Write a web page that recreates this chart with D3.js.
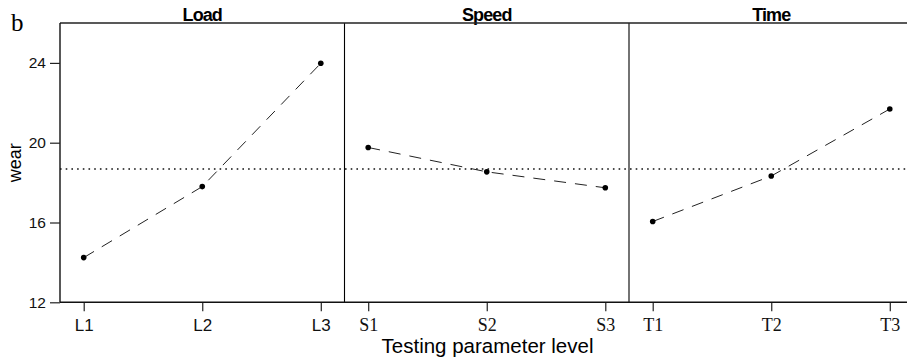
<!DOCTYPE html>
<html>
<head>
<meta charset="utf-8">
<script src="https://cdn.jsdelivr.net/npm/d3@7"></script>
<style>
  html, body { margin: 0; padding: 0; background: #fff; }
  svg { display: block; }
</style>
</head>
<body>
<svg id="chart" width="907" height="363"></svg>
<script>
// ---- data ----
const panelTitles = ["Load", "Speed", "Time"];
const loadLevels = ["L1", "L2", "L3"];
const loadWear = [14.24, 17.80, 23.98];
const speedLevels = ["S1", "S2", "S3"];
const speedWear = [19.76, 18.54, 17.74];
const timeLevels = ["T1", "T2", "T3"];
const timeWear = [16.05, 18.33, 21.69];
const yTicks = [12, 16, 20, 24];
const yDomain = [12, 26];

(function () {
const panels = [
  { title: panelTitles[0], levels: loadLevels, values: loadWear, font: "'Liberation Sans', Arial, sans-serif", fs: 17 },
  { title: panelTitles[1], levels: speedLevels, values: speedWear, font: "'Liberation Serif', 'Times New Roman', serif", fs: 18 },
  { title: panelTitles[2], levels: timeLevels, values: timeWear, font: "'Liberation Serif', 'Times New Roman', serif", fs: 18 }
];
const allVals = loadWear.concat(speedWear, timeWear);
const grandMean = d3.mean(allVals);

const svg = d3.select("#chart");
const plotTop = 23, plotBottom = 302.3, plotLeft = 60, plotRight = 913.5;
const y = d3.scaleLinear().domain(yDomain).range([plotBottom, plotTop]);
const panelX = d3.scaleLinear().domain([0, 3]).range([plotLeft, plotRight]);
const sans = "'Liberation Sans', Arial, sans-serif";

svg.append("line")
  .attr("x1", plotLeft).attr("x2", plotRight)
  .attr("y1", y(grandMean)).attr("y2", y(grandMean))
  .attr("stroke", "#111").attr("stroke-width", 1.4)
  .attr("stroke-dasharray", "1.6,4.1");

panels.forEach((p, i) => {
  const x0 = panelX(i), x1 = panelX(i + 1);
  const x = d3.scalePoint().domain(p.levels).range([x0, x1]).padding(0.2);

  if (i > 0) {
    svg.append("line").attr("x1", x0).attr("x2", x0).attr("y1", plotTop).attr("y2", plotBottom)
      .attr("stroke", "#000").attr("stroke-width", 1.1);
  }

  svg.append("text")
    .attr("x", (x0 + x1) / 2).attr("y", 20.5)
    .attr("text-anchor", "middle")
    .attr("font-family", sans).attr("font-weight", "bold")
    .attr("font-size", 18).attr("letter-spacing", "-0.9px")
    .text(p.title);

  const ax = svg.append("g").attr("transform", `translate(0,${plotBottom})`)
    .call(d3.axisBottom(x).tickSize(9).tickPadding(7.4));
  ax.select(".domain").remove();
  ax.selectAll(".tick line").attr("stroke", "#222").attr("stroke-width", 1.2);
  ax.selectAll(".tick text").attr("font-family", p.font).attr("font-size", p.fs).attr("fill", "#111");

  const line = d3.line().x((d, j) => x(p.levels[j])).y(d => y(d));
  svg.append("path").datum(p.values)
    .attr("d", line).attr("fill", "none")
    .attr("stroke", "#222").attr("stroke-width", 1)
    .attr("stroke-dasharray", "12,9");

  svg.selectAll(null).data(p.values).enter().append("circle")
    .attr("cx", (d, j) => x(p.levels[j])).attr("cy", d => y(d))
    .attr("r", 2.8).attr("fill", "#000");
});

svg.append("line").attr("x1", plotLeft).attr("x2", plotRight).attr("y1", plotTop).attr("y2", plotTop)
  .attr("stroke", "#222").attr("stroke-width", 1.6);
svg.append("line").attr("x1", plotLeft).attr("x2", plotRight).attr("y1", plotBottom).attr("y2", plotBottom)
  .attr("stroke", "#111").attr("stroke-width", 1.6);
svg.append("line").attr("x1", plotLeft).attr("x2", plotLeft).attr("y1", plotTop).attr("y2", plotBottom)
  .attr("stroke", "#111").attr("stroke-width", 1.4);

const ay = svg.append("g").attr("transform", `translate(${plotLeft},0)`)
  .call(d3.axisLeft(y).tickValues(yTicks).tickSize(10).tickPadding(4));
ay.select(".domain").remove();
ay.selectAll(".tick line").attr("stroke", "#222").attr("stroke-width", 1.2);
ay.selectAll(".tick text").attr("font-family", sans).attr("font-size", 15.5).attr("fill", "#111");

svg.append("text")
  .attr("transform", "translate(21,162.7) rotate(-90)")
  .attr("text-anchor", "middle")
  .attr("font-family", sans).attr("font-size", 18)
  .text("wear");

svg.append("text")
  .attr("x", 487.5).attr("y", 353)
  .attr("text-anchor", "middle")
  .attr("font-family", sans).attr("font-size", 20.5)
  .text("Testing parameter level");

svg.append("text")
  .attr("x", 11).attr("y", 31)
  .attr("font-family", "'Liberation Serif', 'Times New Roman', serif").attr("font-size", 25)
  .text("b");
})();
</script>
</body>
</html>
